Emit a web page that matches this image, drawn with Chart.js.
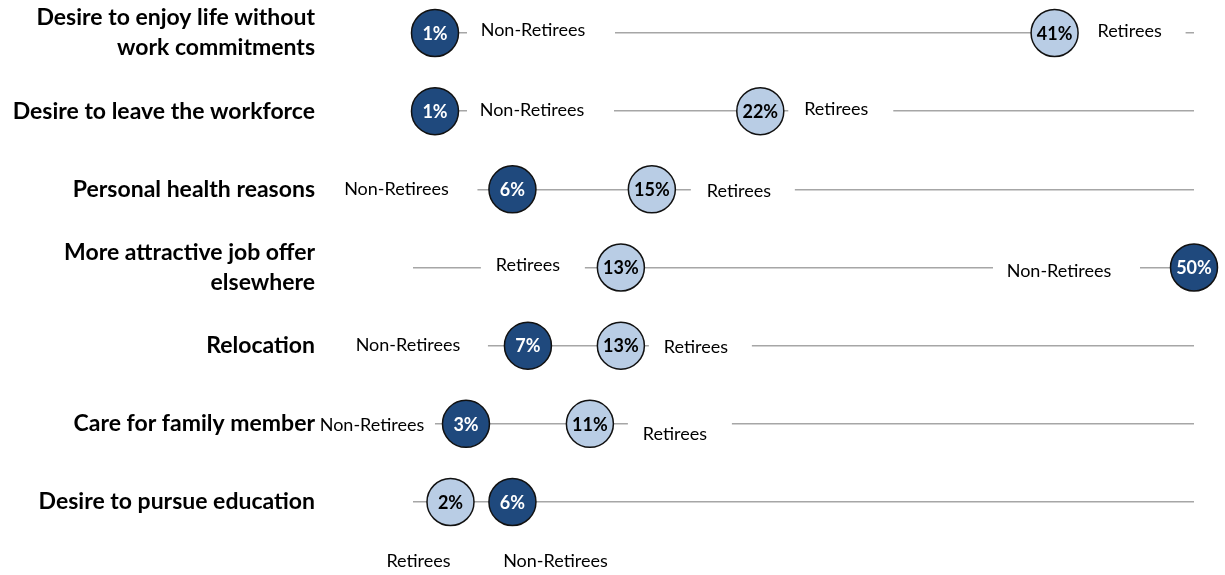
<!DOCTYPE html>
<html>
<head>
<meta charset="utf-8">
<script src="https://cdn.jsdelivr.net/npm/chart.js@4"></script>
<style>
  html, body { margin: 0; padding: 0; background: #fff; }
  #wrap { width: 1225px; height: 575px; }
</style>
</head>
<body>
<div id="wrap"><canvas id="dotChart"></canvas></div>
<script>
var reasons = [
    ['Desire to enjoy life without', 'work commitments'],
    'Desire to leave the workforce',
    'Personal health reasons',
    ['More attractive job offer', 'elsewhere'],
    'Relocation',
    'Care for family member',
    'Desire to pursue education'
];
var retirees = [41, 22, 15, 13, 13, 11, 2];
var nonRetirees = [1, 1, 6, 50, 7, 3, 6];

// where the series name sits next to each dot: [text dx, text dy, box left, box right]
var retireeTags = [
    [75, -2, 23, 131],
    [76, -2, 28, 133],
    [87, 2, 39, 143],
    [-93, -2, -140, -36],
    [75, 2, 28, 131],
    [85, 10, 38, 142],
    [-32, 59, 0, 0]
];
var nonRetireeTags = [
    [98, -3, 32, 180],
    [97, -1, 32, 179],
    [-116, 0, -175, -35],
    [-135, 4, -201, -54],
    [-120, 0, -185, -40],
    [-94, 1, -136, -31],
    [43, 59, 0, 0]
];

function toPoints(values) {
    return values.map(function (v, i) { return { x: v, y: i }; });
}

var dotLabels = {
    id: 'dotLabels',
    beforeDatasetsDraw: function (chart) {
        var ctx = chart.ctx;
        ctx.save();
        ctx.font = '18px Lato';
        ctx.textAlign = 'center';
        ctx.textBaseline = 'middle';
        chart.data.datasets.forEach(function (ds, di) {
            chart.getDatasetMeta(di).data.forEach(function (pt, i) {
                var tag = ds.tags[i];
                if (tag[3] > tag[2]) {
                    ctx.fillStyle = '#ffffff';
                    ctx.fillRect(pt.x + tag[2], pt.y - 12, tag[3] - tag[2], 24);
                }
                ctx.fillStyle = '#000000';
                ctx.fillText(ds.label, pt.x + tag[0], pt.y + tag[1]);
            });
        });
        ctx.restore();
    },
    afterDatasetsDraw: function (chart) {
        var ctx = chart.ctx;
        ctx.save();
        ctx.font = 'bold 18px Lato';
        ctx.textAlign = 'center';
        ctx.textBaseline = 'middle';
        chart.data.datasets.forEach(function (ds, di) {
            chart.getDatasetMeta(di).data.forEach(function (pt, i) {
                ctx.fillStyle = ds.textColor;
                ctx.fillText(ds.data[i].x + '%', pt.x, pt.y + 1);
            });
        });
        ctx.restore();
    }
};

var dotChart = new Chart(document.getElementById('dotChart'), {
    type: 'scatter',
    data: {
        datasets: [{
            label: 'Non-Retirees',
            data: toPoints(nonRetirees),
            tags: nonRetireeTags,
            textColor: '#ffffff',
            backgroundColor: '#1f497d',
            borderColor: '#111111',
            borderWidth: 1.5,
            pointRadius: 23.5,
            pointHoverRadius: 23.5,
            clip: false
        }, {
            label: 'Retirees',
            data: toPoints(retirees),
            tags: retireeTags,
            textColor: '#000000',
            backgroundColor: '#b9cde5',
            borderColor: '#111111',
            borderWidth: 1.5,
            pointRadius: 23.5,
            pointHoverRadius: 23.5,
            clip: false
        }]
    },
    options: {
        responsive: true,
        maintainAspectRatio: false,
        animation: false,
        events: [],
        layout: { padding: { top: 33, right: 31, bottom: 73, left: 0 } },
        plugins: {
            legend: { display: false },
            tooltip: { enabled: false }
        },
        scales: {
            x: {
                type: 'linear',
                min: -0.42,
                max: 50,
                display: false
            },
            y: {
                type: 'category',
                labels: reasons,
                offset: false,
                border: { display: false },
                grid: {
                    color: '#a6a6a6',
                    lineWidth: 1.5,
                    drawTicks: true,
                    tickLength: 98,
                    tickColor: 'rgba(0,0,0,0)'
                },
                ticks: {
                    padding: 0,
                    color: '#000000',
                    font: { family: 'Lato', size: 23, weight: 'bold', lineHeight: 1.3 }
                },
                afterFit: function (scale) { scale.width = 413; }
            }
        }
    },
    plugins: [dotLabels]
});
</script>
</body>
</html>
